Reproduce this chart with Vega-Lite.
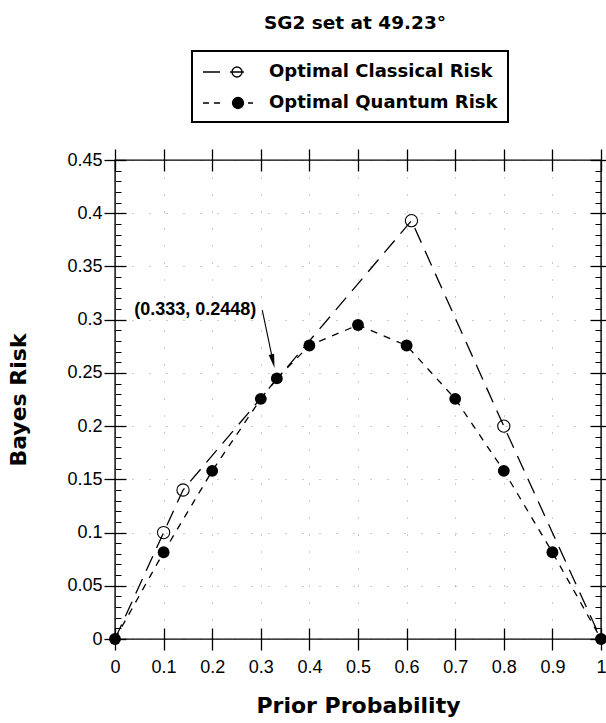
{
  "$schema": "https://vega.github.io/schema/vega-lite/v6.json",
  "autosize": "none",
  "padding": {"left": 115, "top": 160, "right": 5, "bottom": 84},
  "width": 486,
  "height": 479,
  "title": {"text": "SG2 set at 49.23°", "font": "DejaVu Sans", "fontSize": 18.5, "fontWeight": "bold", "color": "black", "offset": 18, "anchor": "middle", "frame": "group", "dx": -3},
  "datasets": {
    "curves": [
      {"p": 0, "risk": 0, "series": "Optimal Classical Risk"},
      {"p": 0.1, "risk": 0.1, "series": "Optimal Classical Risk"},
      {"p": 0.14, "risk": 0.14, "series": "Optimal Classical Risk"},
      {"p": 0.61, "risk": 0.393, "series": "Optimal Classical Risk"},
      {"p": 0.8, "risk": 0.2, "series": "Optimal Classical Risk"},
      {"p": 1, "risk": 0, "series": "Optimal Classical Risk"},
      {"p": 0, "risk": 0, "series": "Optimal Quantum Risk"},
      {"p": 0.1, "risk": 0.0815, "series": "Optimal Quantum Risk"},
      {"p": 0.2, "risk": 0.158, "series": "Optimal Quantum Risk"},
      {"p": 0.3, "risk": 0.2256, "series": "Optimal Quantum Risk"},
      {"p": 0.333, "risk": 0.2448, "series": "Optimal Quantum Risk"},
      {"p": 0.4, "risk": 0.2757, "series": "Optimal Quantum Risk"},
      {"p": 0.5, "risk": 0.295, "series": "Optimal Quantum Risk"},
      {"p": 0.6, "risk": 0.2757, "series": "Optimal Quantum Risk"},
      {"p": 0.7, "risk": 0.2256, "series": "Optimal Quantum Risk"},
      {"p": 0.8, "risk": 0.158, "series": "Optimal Quantum Risk"},
      {"p": 0.9, "risk": 0.0815, "series": "Optimal Quantum Risk"},
      {"p": 1, "risk": 0, "series": "Optimal Quantum Risk"}
    ],
    "note": [
      {"p": 0.333, "risk": 0.2448, "tp": 0.303, "tr": 0.309, "hp": 0.325, "hr": 0.261, "label": "(0.333, 0.2448)"}
    ]
  },
  "layer": [
    {
      "data": {"name": "curves"},
      "transform": [{"filter": "datum.series == 'Optimal Classical Risk'"}],
      "mark": {"type": "line", "color": "black", "strokeWidth": 1.3, "strokeDash": [16, 9]},
      "encoding": {
        "x": {"field": "p", "type": "quantitative", "scale": {"domain": [0, 1], "nice": false},
          "axis": {"orient": "bottom", "values": [0, 0.1, 0.2, 0.3, 0.4, 0.5, 0.6, 0.7, 0.8, 0.9, 1], "format": ".1~f", "offset": -11, "tickSize": 22, "labelPadding": 8, "title": "Prior Probability", "titlePadding": 19, "grid": true, "gridDash": [1, 16], "gridColor": "black", "gridOpacity": 0.4, "labelFlush": false}},
        "y": {"field": "risk", "type": "quantitative", "scale": {"domain": [0, 0.45], "nice": false},
          "axis": {"orient": "left", "values": [0, 0.05, 0.1, 0.15, 0.2, 0.25, 0.3, 0.35, 0.4, 0.45], "format": "~g", "offset": -11, "tickSize": 22, "labelPadding": 2, "title": "Bayes Risk", "titlePadding": 36, "grid": true, "gridDash": [1, 16], "gridColor": "black", "gridOpacity": 0.4, "labelFlush": false}}
      }
    },
    {
      "data": {"name": "curves"},
      "transform": [{"filter": "datum.series == 'Optimal Quantum Risk'"}],
      "mark": {"type": "line", "color": "black", "strokeWidth": 1.3, "strokeDash": [7, 7]},
      "encoding": {
        "x": {"field": "p", "type": "quantitative",
          "axis": {"orient": "top", "values": [0, 0.1, 0.2, 0.3, 0.4, 0.5, 0.6, 0.7, 0.8, 0.9, 1], "offset": -11, "tickSize": 22, "labels": false, "title": null, "grid": false}},
        "y": {"field": "risk", "type": "quantitative",
          "axis": {"orient": "right", "values": [0, 0.05, 0.1, 0.15, 0.2, 0.25, 0.3, 0.35, 0.4, 0.45], "offset": -11, "tickSize": 22, "labels": false, "title": null, "grid": false}}
      }
    },
    {
      "data": {"name": "curves"},
      "transform": [{"filter": "datum.series == 'Optimal Classical Risk' && datum.p > 0 && datum.p < 1"}],
      "mark": {"type": "point", "shape": "circle", "filled": false, "stroke": "black", "strokeWidth": 1.1, "size": 150, "opacity": 1},
      "encoding": {
        "x": {"field": "p", "type": "quantitative", "axis": null},
        "y": {"field": "risk", "type": "quantitative",
          "axis": {"orient": "left", "values": [0,0.01,0.02,0.03,0.04,0.05,0.06,0.07,0.08,0.09,0.1,0.11,0.12,0.13,0.14,0.15,0.16,0.17,0.18,0.19,0.2,0.21,0.22,0.23,0.24,0.25,0.26,0.27,0.28,0.29,0.3,0.31,0.32,0.33,0.34,0.35,0.36,0.37,0.38,0.39,0.4,0.41,0.42,0.43,0.44,0.45], "offset": -6, "tickSize": 6, "tickWidth": 1, "labels": false, "title": null, "grid": false}}
      }
    },
    {
      "data": {"name": "curves"},
      "transform": [{"filter": "datum.series == 'Optimal Quantum Risk'"}],
      "mark": {"type": "point", "shape": "circle", "filled": true, "color": "black", "size": 140, "opacity": 1},
      "encoding": {
        "x": {"field": "p", "type": "quantitative", "axis": null},
        "y": {"field": "risk", "type": "quantitative",
          "axis": {"orient": "right", "values": [0,0.01,0.02,0.03,0.04,0.05,0.06,0.07,0.08,0.09,0.1,0.11,0.12,0.13,0.14,0.15,0.16,0.17,0.18,0.19,0.2,0.21,0.22,0.23,0.24,0.25,0.26,0.27,0.28,0.29,0.3,0.31,0.32,0.33,0.34,0.35,0.36,0.37,0.38,0.39,0.4,0.41,0.42,0.43,0.44,0.45], "offset": -6, "tickSize": 6, "tickWidth": 1, "labels": false, "title": null, "grid": false}}
      }
    },
    {
      "data": {"name": "curves"},
      "transform": [{"filter": "false"}],
      "mark": {"type": "point", "stroke": "black", "strokeWidth": 1.2},
      "encoding": {
        "x": {"field": "p", "type": "quantitative", "axis": null},
        "y": {"field": "risk", "type": "quantitative", "axis": null},
        "shape": {"field": "series", "type": "nominal",
          "scale": {"domain": ["Optimal Classical Risk", "Optimal Quantum Risk"], "range": ["M-2.5,0L-0.8,0M0.2,0L1.6,0M1.4,0A0.5,0.5,0,1,1,0.4,0A0.5,0.5,0,1,1,1.4,0", "M-2.5,0L-1.9,0M-1.4,0L-0.8,0M1.55,0A0.55,0.55,0,1,1,0.45,0A0.55,0.55,0,1,1,1.55,0M2,0L2.5,0"]},
          "legend": {"title": null, "orient": "none", "legendX": 77, "legendY": -109, "direction": "vertical",
            "encode": {"symbols": {"update": {"stroke": {"value": "black"}, "strokeWidth": {"value": 1.3}, "opacity": {"value": 1}}}}}},
        "fill": {"field": "series", "type": "nominal",
          "scale": {"domain": ["Optimal Classical Risk", "Optimal Quantum Risk"], "range": ["white", "black"]},
          "legend": {"title": null, "orient": "none", "legendX": 77, "legendY": -109, "direction": "vertical",
            "encode": {"symbols": {"update": {"stroke": {"value": "black"}, "strokeWidth": {"value": 1.3}, "opacity": {"value": 1}}}}}}
      }
    },
    {
      "data": {"name": "note"},
      "mark": {"type": "rule", "color": "black", "strokeWidth": 1.1},
      "encoding": {
        "x": {"field": "tp", "type": "quantitative", "axis": null},
        "y": {"field": "tr", "type": "quantitative", "axis": null},
        "x2": {"field": "hp"},
        "y2": {"field": "hr"}
      }
    },
    {
      "data": {"name": "note"},
      "mark": {"type": "point", "shape": "M0,1L-0.4,-1L0.4,-1Z", "filled": true, "color": "black", "size": 196, "angle": 347, "opacity": 1},
      "encoding": {
        "x": {"field": "hp", "type": "quantitative", "axis": null},
        "y": {"field": "hr", "type": "quantitative", "axis": null}
      }
    },
    {
      "data": {"name": "note"},
      "mark": {"type": "text", "align": "right", "baseline": "middle", "dx": -6, "font": "Liberation Sans", "fontWeight": "bold", "fontSize": 18, "color": "black"},
      "encoding": {
        "x": {"field": "tp", "type": "quantitative", "axis": null},
        "y": {"field": "tr", "type": "quantitative", "axis": null},
        "text": {"field": "label"}
      }
    }
  ],
  "resolve": {"axis": {"x": "independent", "y": "independent"}},
  "config": {
    "view": {"stroke": "black", "strokeWidth": 1.4},
    "axis": {"domain": false, "tickColor": "black", "tickWidth": 1.3, "labelColor": "black", "labelFont": "Liberation Sans", "labelFontSize": 18, "titleFont": "DejaVu Sans", "titleFontSize": 22, "titleFontWeight": "bold", "titleColor": "black"},
    "legend": {"strokeColor": "black", "strokeWidth": 2, "padding": 10, "symbolSize": 400, "symbolOffset": 15, "labelOffset": 30, "rowPadding": 11, "labelFont": "DejaVu Sans", "labelFontSize": 18, "labelFontWeight": "bold", "labelColor": "black", "labelLimit": 400, "symbolStrokeColor": "black", "symbolStrokeWidth": 1.2, "symbolOpacity": 1}
  }
}
